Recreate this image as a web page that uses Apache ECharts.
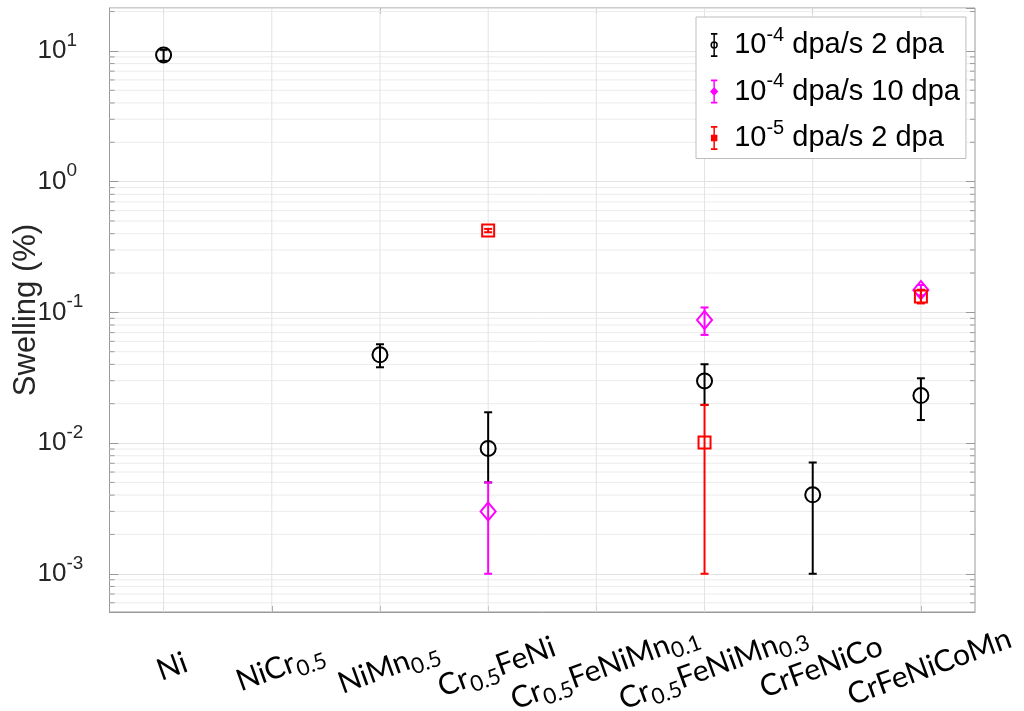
<!DOCTYPE html>
<html>
<head>
<meta charset="utf-8">
<script src="https://cdn.jsdelivr.net/npm/echarts@6/dist/echarts.min.js"></script>
<style>
  html, body { margin: 0; padding: 0; background: #fff; }
  #chart { width: 1024px; height: 711px; }
</style>
</head>
<body>
<div id="chart"></div>
<script>
// Alloy compositions along the x axis
const categories = ['Ni', 'NiCr0.5', 'NiMn0.5', 'Cr0.5FeNi', 'Cr0.5FeNiMn0.1', 'Cr0.5FeNiMn0.3', 'CrFeNiCo', 'CrFeNiCoMn'];

// 1e-4 dpa/s, 2 dpa
const s1Alloys = ['Ni', 'NiMn0.5', 'Cr0.5FeNi', 'Cr0.5FeNiMn0.3', 'CrFeNiCo', 'CrFeNiCoMn'];
const s1Swell  = [9.3, 0.0473, 0.0091, 0.0299, 0.00402, 0.0231];
const s1Low    = [8.4, 0.038, 0.0050, 0.0196, 0.001, 0.0150];
const s1High   = [10.2, 0.057, 0.0172, 0.0401, 0.0071, 0.0313];

// 1e-4 dpa/s, 10 dpa
const s2Alloys = ['Cr0.5FeNi', 'Cr0.5FeNiMn0.3', 'CrFeNiCoMn'];
const s2Swell  = [0.0030, 0.0875, 0.148];
const s2Low    = [0.001, 0.0672, 0.135];
const s2High   = [0.005, 0.109, 0.162];

// 1e-5 dpa/s, 2 dpa
const s3Alloys = ['Cr0.5FeNi', 'Cr0.5FeNiMn0.3', 'CrFeNiCoMn'];
const s3Swell  = [0.422, 0.0101, 0.132];
const s3Low    = [0.41, 0.001, 0.117];
const s3High   = [0.435, 0.0196, 0.149];

// Legend entries: rate exponent and remainder of the text
const legendNames = ['10^-4 dpa/s 2 dpa', '10^-4 dpa/s 10 dpa', '10^-5 dpa/s 2 dpa'];
const legendExp   = ['-4', '-4', '-5'];
const legendRest  = [' dpa/s 2 dpa', ' dpa/s 10 dpa', ' dpa/s 2 dpa'];

// Log-axis range and tick values
const yMin = 5.1e-4;
const yMax = 21.3;
const decades = [1e-4, 1e-3, 1e-2, 1e-1, 1, 10];
const minorSteps = [2, 3, 4, 5, 6, 7, 8, 9];

const minorValues = [];
decades.forEach(d => minorSteps.forEach(m => {
  const v = d * m;
  if (v > yMin && v < yMax) minorValues.push([0, v]);
}));

const AX = '#9a9a9a';
const colors = ['#000000', '#ff00ff', '#ff0000'];

function toIndexPairs(alloys, vals) {
  return alloys.map((a, i) => [categories.indexOf(a), vals[i]]);
}
function toBars(alloys, low, high) {
  return alloys.map((a, i) => [categories.indexOf(a), low[i], high[i]]);
}

function errorBarRender(color) {
  return function (params, api) {
    const lo = api.coord([api.value(0), api.value(1)]);
    const hi = api.coord([api.value(0), api.value(2)]);
    const hw = 4;
    const st = { stroke: color, lineWidth: 2 };
    return {
      type: 'group',
      children: [
        { type: 'line', shape: { x1: lo[0], y1: lo[1], x2: hi[0], y2: hi[1] }, style: st },
        { type: 'line', shape: { x1: lo[0] - hw, y1: lo[1], x2: lo[0] + hw, y2: lo[1] }, style: st },
        { type: 'line', shape: { x1: hi[0] - hw, y1: hi[1], x2: hi[0] + hw, y2: hi[1] }, style: st }
      ]
    };
  };
}

// Minor log grid lines plus inside tick marks on both vertical edges
function minorRender(params, api) {
  const cs = params.coordSys;
  const y = api.coord([0, api.value(1)])[1];
  return {
    type: 'group',
    children: [
      { type: 'line', shape: { x1: cs.x, y1: y, x2: cs.x + cs.width, y2: y }, style: { stroke: '#ececec', lineWidth: 1 } },
      { type: 'line', shape: { x1: cs.x, y1: y, x2: cs.x + 5, y2: y }, style: { stroke: AX, lineWidth: 1 } },
      { type: 'line', shape: { x1: cs.x + cs.width - 5, y1: y, x2: cs.x + cs.width, y2: y }, style: { stroke: AX, lineWidth: 1 } }
    ]
  };
}

// Vertical grid lines through each category tick
function vGridRender(params, api) {
  const cs = params.coordSys;
  const x = api.coord([api.value(0), 1])[0];
  return {
    type: 'line',
    shape: { x1: x, y1: cs.y, x2: x, y2: cs.y + cs.height },
    style: { stroke: '#e3e3e3', lineWidth: 1 }
  };
}

function xLabel(value) {
  return value.split(/(\d\.\d)/).filter(Boolean)
    .map(p => /^\d\.\d$/.test(p) ? '{s|' + p + '}' : '{b|' + p + '}').join('');
}

const chart = echarts.init(document.getElementById('chart'), null, { renderer: 'canvas' });

const iconBlack = 'path://M1.5 0H8.5V1.8H1.5Z M1.5 24.2H8.5V26H1.5Z M4.2 0H5.8V9.2H4.2Z M4.2 16.8H5.8V26H4.2Z M4.2 10.5H5.8V15.5H4.2Z M5 9A4 4 0 0 1 5 17A4 4 0 0 1 5 9Z M5 10.6A2.4 2.4 0 0 0 5 15.4A2.4 2.4 0 0 0 5 10.6Z';
const iconMagenta = 'path://M1.5 0H8.5V1.8H1.5Z M1.5 24.2H8.5V26H1.5Z M4.2 0H5.8V26H4.2Z M5 8L9.5 13L5 18L0.5 13Z';
const iconRed = 'path://M1.5 0H8.5V1.8H1.5Z M1.5 24.2H8.5V26H1.5Z M4.2 0H5.8V26H4.2Z M1.5 9.5H8.5V16.5H1.5Z';

const option = {
  backgroundColor: '#ffffff',
  animation: false,
  grid: {
    left: 109.5, right: 49, top: 8, bottom: 99,
    outerBoundsMode: 'none',
    containLabel: false,
    show: true, borderColor: AX, borderWidth: 1, backgroundColor: 'transparent'
  },
  legend: {
    orient: 'vertical',
    left: 696, top: 17,
    padding: [8, 6, 6, 14],
    itemGap: 12,
    itemWidth: 10,
    itemHeight: 24,
    backgroundColor: '#ffffff',
    borderColor: '#bdbdbd',
    borderWidth: 1,
    borderRadius: 0,
    data: [
      { name: legendNames[0], icon: iconBlack, itemStyle: { color: colors[0], borderWidth: 0 } },
      { name: legendNames[1], icon: iconMagenta, itemStyle: { color: colors[1], borderWidth: 0 } },
      { name: legendNames[2], icon: iconRed, itemStyle: { color: colors[2], borderWidth: 0 } }
    ],
    formatter: function (name) {
      const i = legendNames.indexOf(name);
      return '{n|10}{p|' + legendExp[i] + '}{n|' + legendRest[i] + '}';
    },
    textStyle: {
      padding: [0, 0, 0, 10],
      rich: {
        n: { fontFamily: 'Liberation Sans', fontSize: 29, color: '#000', lineHeight: 40, verticalAlign: 'middle' },
        p: { fontFamily: 'Liberation Sans', fontSize: 20, color: '#000', lineHeight: 16, verticalAlign: 'top' }
      }
    }
  },
  xAxis: [
    {
      type: 'category',
      data: categories,
      position: 'bottom',
      boundaryGap: true,
      axisLine: { show: true, lineStyle: { color: AX, width: 1 } },
      axisTick: { show: true, inside: true, alignWithLabel: true, length: 6, lineStyle: { color: AX } },
      splitLine: { show: false },
      axisLabel: {
        interval: 0,
        rotate: 20,
        align: 'center',
        verticalAlign: 'middle',
        margin: 58,
        padding: [0, 0, 0, 18],
        formatter: xLabel,
        rich: {
          b: { fontFamily: 'Lato', fontSize: 30, color: '#000', lineHeight: 40, verticalAlign: 'middle' },
          s: { fontFamily: 'Lato', fontSize: 22, color: '#000', lineHeight: 20, verticalAlign: 'bottom' }
        }
      }
    },
    {
      type: 'category',
      data: categories,
      position: 'top',
      boundaryGap: true,
      axisLine: { show: false },
      axisTick: { show: true, inside: true, alignWithLabel: true, length: 6, lineStyle: { color: AX } },
      axisLabel: { show: false },
      splitLine: { show: false }
    }
  ],
  yAxis: [
    {
      type: 'log',
      min: yMin,
      max: yMax,
      logBase: 10,
      position: 'left',
      name: 'Swelling (%)',
      nameLocation: 'middle',
      nameGap: 68,
      nameRotate: 90,
      nameMoveOverlap: false,
      nameTextStyle: { fontFamily: 'Liberation Sans', fontSize: 31, color: '#262626' },
      axisLine: { show: true, lineStyle: { color: AX, width: 1 } },
      axisTick: { show: true, inside: true, length: 9, lineStyle: { color: AX } },
      splitLine: { show: true, lineStyle: { color: '#e3e3e3', width: 1 } },
      axisLabel: {
        showMinLabel: false,
        showMaxLabel: false,
        align: 'left',
        margin: 72,
        formatter: function (v) {
          const e = Math.round(Math.log10(v));
          return '{b|10}{p|' + e + '}';
        },
        rich: {
          b: { fontFamily: 'Liberation Sans', fontSize: 26, color: '#262626', lineHeight: 40, verticalAlign: 'middle' },
          p: { fontFamily: 'Liberation Sans', fontSize: 19, color: '#262626', lineHeight: 16, verticalAlign: 'top' }
        }
      }
    },
    {
      type: 'log',
      min: yMin,
      max: yMax,
      logBase: 10,
      position: 'right',
      axisLine: { show: false },
      axisTick: { show: true, inside: true, length: 9, lineStyle: { color: AX } },
      axisLabel: { show: false },
      splitLine: { show: false }
    }
  ],
  series: [
    {
      type: 'custom', name: 'minorGrid', silent: true, z: 1,
      xAxisIndex: 0, yAxisIndex: 0,
      renderItem: minorRender,
      encode: { x: 0, y: 1 },
      data: minorValues
    },
    {
      type: 'custom', name: 'catGrid', silent: true, z: 1,
      xAxisIndex: 0, yAxisIndex: 0,
      renderItem: vGridRender,
      encode: { x: 0 },
      data: categories.map((c, i) => [i])
    },
    {
      type: 'custom', name: 'bars1', silent: true, z: 3,
      renderItem: errorBarRender(colors[0]),
      encode: { x: 0, y: [1, 2] },
      data: toBars(s1Alloys, s1Low, s1High)
    },
    {
      type: 'scatter', name: legendNames[0], z: 4,
      symbol: 'circle', symbolSize: 15,
      itemStyle: { color: 'rgba(0,0,0,0)', borderColor: colors[0], borderWidth: 2, opacity: 1 },
      data: toIndexPairs(s1Alloys, s1Swell)
    },
    {
      type: 'custom', name: 'bars2', silent: true, z: 5,
      renderItem: errorBarRender(colors[1]),
      encode: { x: 0, y: [1, 2] },
      data: toBars(s2Alloys, s2Low, s2High)
    },
    {
      type: 'scatter', name: legendNames[1], z: 6,
      symbol: 'diamond', symbolSize: [15, 18],
      itemStyle: { color: 'rgba(0,0,0,0)', borderColor: colors[1], borderWidth: 2, opacity: 1 },
      data: toIndexPairs(s2Alloys, s2Swell)
    },
    {
      type: 'custom', name: 'bars3', silent: true, z: 7,
      renderItem: errorBarRender(colors[2]),
      encode: { x: 0, y: [1, 2] },
      data: toBars(s3Alloys, s3Low, s3High)
    },
    {
      type: 'scatter', name: legendNames[2], z: 8,
      symbol: 'rect', symbolSize: 12,
      itemStyle: { color: 'rgba(0,0,0,0)', borderColor: colors[2], borderWidth: 2, opacity: 1 },
      data: toIndexPairs(s3Alloys, s3Swell)
    }
  ]
};

chart.setOption(option);
</script>
</body>
</html>
